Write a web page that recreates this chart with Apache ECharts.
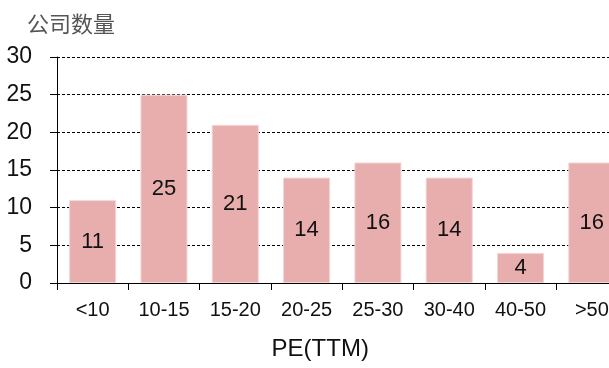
<!DOCTYPE html>
<html>
<head>
<meta charset="utf-8">
<script src="https://cdn.jsdelivr.net/npm/echarts@6/dist/echarts.min.js"></script>
<style>
  html, body { margin: 0; padding: 0; background: #fff; }
  #chart { width: 609px; height: 368px; }
</style>
</head>
<body>
<div id="chart"></div>
<script>
// PE(TTM) distribution: number of companies per valuation band
const categories = ['<10', '10-15', '15-20', '20-25', '25-30', '30-40', '40-50', '>50'];
const companyCounts = [11, 25, 21, 14, 16, 14, 4, 16];
const yTicks = { min: 0, max: 30, interval: 5 };
const titleText = '公司数量';
const axisName = 'PE(TTM)';

const numFont = '"Liberation Sans", Arial, sans-serif';

const chart = echarts.init(document.getElementById('chart'), null, { renderer: 'canvas' });
chart.setOption({
  animation: false,
  backgroundColor: '#ffffff',
  title: {
    text: titleText,
    left: 22,
    top: 8,
    textStyle: {
      fontFamily: '"Noto Sans CJK SC", sans-serif',
      fontSize: 22,
      fontWeight: 'normal',
      color: '#555'
    }
  },
  // the plot runs past the right edge of the canvas, so the last band is clipped
  grid: {
    left: 57, top: 57, height: 226, width: 570.5,
    containLabel: false,
    outerBoundsMode: 'none'
  },
  xAxis: {
    type: 'category',
    data: categories,
    name: axisName,
    nameLocation: 'middle',
    nameGap: 54,
    nameTextStyle: {
      fontFamily: numFont,
      fontSize: 24,
      color: '#111',
      padding: [0, 44, 0, 0]
    },
    axisLine: { show: true, lineStyle: { color: '#000', width: 1 } },
    axisTick: { show: true, alignWithLabel: false, length: 7, lineStyle: { color: '#000' } },
    axisLabel: {
      margin: 17,
      fontFamily: numFont,
      fontSize: 20,
      color: '#111',
      interval: 0
    },
    splitLine: { show: false }
  },
  yAxis: {
    type: 'value',
    min: yTicks.min,
    max: yTicks.max,
    interval: yTicks.interval,
    axisLine: { show: true, lineStyle: { color: '#000', width: 1 } },
    axisTick: { show: true, length: 7, lineStyle: { color: '#000' } },
    axisLabel: {
      margin: 25,
      fontFamily: numFont,
      fontSize: 23,
      color: '#111'
    },
    splitLine: {
      show: true,
      lineStyle: { color: '#000', width: 1, type: [3, 2] }
    }
  },
  series: [{
    type: 'bar',
    data: companyCounts,
    barCategoryGap: '34%',
    itemStyle: {
      color: '#E8ADAD',
      borderColor: '#F4D6D6',
      borderWidth: 1
    },
    label: {
      show: true,
      position: 'inside',
      fontFamily: numFont,
      fontSize: 22,
      color: '#111'
    }
  }]
});
</script>
</body>
</html>
